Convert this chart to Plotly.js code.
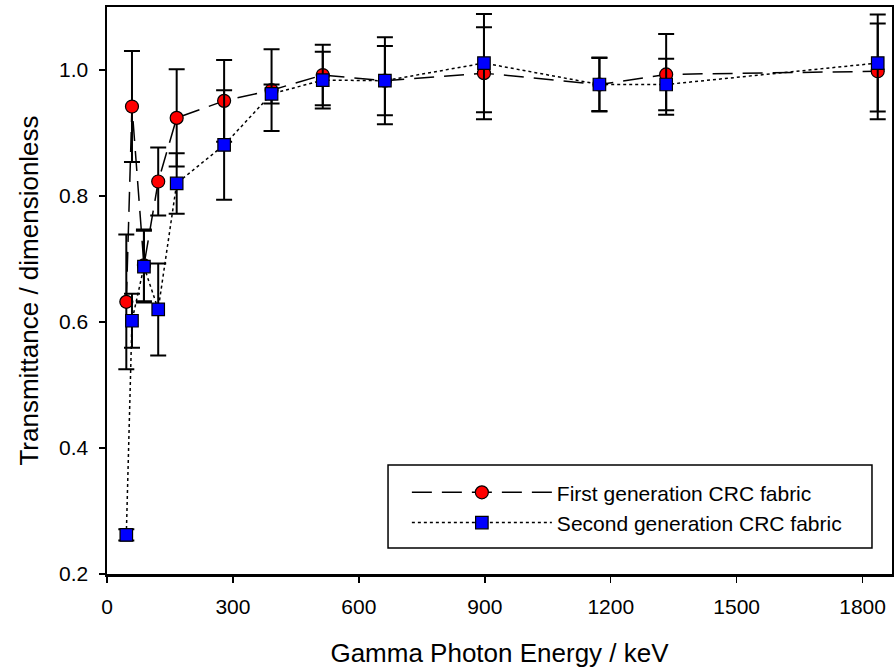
<!DOCTYPE html>
<html>
<head>
<meta charset="utf-8">
<script src="https://cdn.plot.ly/plotly-3.0.1.min.js"></script>
<style>html,body{margin:0;padding:0;background:#fff;}#chart{width:894px;height:670px;}</style>
</head>
<body>
<div id="chart"></div>
<script>
var energies = [46, 59.5, 88, 122, 166, 279, 392, 514, 662, 898, 1173, 1332, 1836];
var firstGen = [0.632, 0.942, 0.690, 0.823, 0.924, 0.951, 0.968, 0.992, 0.983, 0.995, 0.977, 0.993, 0.998];
var firstGenErr = [0.107, 0.088, 0.057, 0.054, 0.077, 0.065, 0.065, 0.048, 0.069, 0.073, 0.043, 0.064, 0.076];
var secondGen = [0.262, 0.602, 0.688, 0.620, 0.820, 0.881, 0.962, 0.984, 0.983, 1.011, 0.977, 0.977, 1.011];
var secondGenErr = [0.009, 0.043, 0.057, 0.073, 0.048, 0.087, 0.015, 0.045, 0.055, 0.078, 0.042, 0.041, 0.077];
var xTicks = [0, 300, 600, 900, 1200, 1500, 1800];
var yTicks = [0.2, 0.4, 0.6, 0.8, 1.0];

var font = 'Liberation Sans, Arial, sans-serif';

var trace1 = {
  x: energies, y: firstGen, type: 'scatter', mode: 'lines+markers',
  name: 'First generation CRC fabric',
  line: {color: '#000', width: 1.5, dash: '20px,10px'},
  marker: {symbol: 'circle', size: 13, color: '#ff0000', line: {color: '#000', width: 1.2}},
  error_y: {type: 'data', array: firstGenErr, visible: true, color: '#000', thickness: 2, width: 8}
};
var trace2 = {
  x: energies, y: secondGen, type: 'scatter', mode: 'lines+markers',
  name: 'Second generation CRC fabric',
  line: {color: '#000', width: 1.5, dash: 'dot'},
  marker: {symbol: 'square', size: 12.5, color: '#0000ff', line: {color: '#000', width: 1.2}},
  error_y: {type: 'data', array: secondGenErr, visible: true, color: '#000', thickness: 2, width: 8}
};

var layout = {
  width: 894, height: 670,
  margin: {l: 107, r: 2, t: 7, b: 96, pad: 0},
  paper_bgcolor: '#fff', plot_bgcolor: '#fff',
  font: {family: font, color: '#000', size: 20},
  showlegend: true,
  legend: {
    x: 0.382, y: 0.117, xanchor: 'left', yanchor: 'middle',
    borderwidth: 0, bgcolor: 'rgba(255,255,255,0)',
    font: {family: font, size: 21, color: '#000'},
    itemwidth: 140, tracegroupgap: 0
  },
  shapes: [{
    type: 'rect', xref: 'paper', yref: 'paper',
    x0: 0.358, x1: 0.9745, y0: 0.0459, y1: 0.1922,
    line: {color: '#000', width: 1.5}, fillcolor: '#fff', layer: 'below'
  }],
  xaxis: {
    range: [0, 1870], tickvals: xTicks, ticktext: xTicks.map(String),
    showgrid: false, zeroline: false,
    showline: true, linecolor: '#000', linewidth: 2.5, mirror: true,
    ticks: 'outside', ticklen: 6, tickwidth: 1.5, tickcolor: '#000',
    ticklabelstandoff: 6,
    tickfont: {family: font, size: 21, color: '#000'},
    title: {text: 'Gamma Photon Energy / keV', font: {family: font, size: 26, color: '#000'}, standoff: 27}
  },
  yaxis: {
    range: [0.2, 1.1], tickvals: yTicks, ticktext: yTicks.map(function(v){return v.toFixed(1);}),
    showgrid: false, zeroline: false,
    showline: true, linecolor: '#000', linewidth: 2.5, mirror: true,
    ticks: 'outside', ticklen: 6, tickwidth: 1.5, tickcolor: '#000',
    ticklabelstandoff: 6,
    tickfont: {family: font, size: 21, color: '#000'},
    title: {text: 'Transmittance / dimensionless', font: {family: font, size: 26, color: '#000'}, standoff: 13}
  }
};

Plotly.newPlot('chart', [trace1, trace2], layout, {displayModeBar: false, staticPlot: true});
</script>
</body>
</html>
